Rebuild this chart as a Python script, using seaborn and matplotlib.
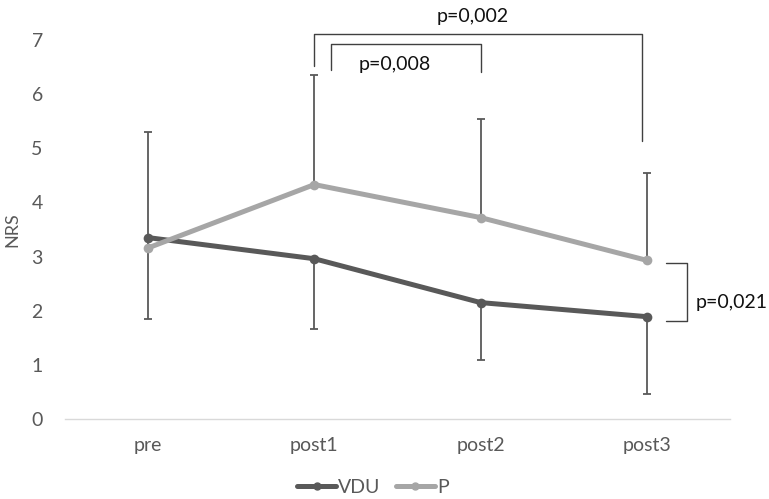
import numpy as np
import pandas as pd
import seaborn as sns
import matplotlib.pyplot as plt

# values
timepoints = ["pre", "post1", "post2", "post3"]
vdu_mean = [3.35, 2.96, 2.15, 1.89]
p_mean = [3.16, 4.33, 3.72, 2.93]
# one-sided error bars: P upward, VDU downward
p_err_up = [2.14, 2.02, 1.83, 1.62]
vdu_err_down = [1.50, 1.29, 1.06, 1.43]
yticks = [0, 1, 2, 3, 4, 5, 6, 7]

dark = "#595959"
light = "#a6a6a6"
text_col = "#595959"

df = pd.DataFrame({
    "time": timepoints * 2,
    "NRS": vdu_mean + p_mean,
    "group": ["VDU"] * 4 + ["P"] * 4,
})

sns.set_style("white")
plt.rcParams["font.family"] = ["Lato", "DejaVu Sans"]

fig = plt.figure(figsize=(7.69, 4.99), dpi=100)
ax = fig.add_axes([65 / 769, 80 / 499, 665 / 769, 379 / 499])

x = np.arange(len(timepoints))
ax.errorbar(x, p_mean, yerr=[np.zeros(4), p_err_up], fmt="none",
            ecolor=dark, elinewidth=1.3, capsize=3, capthick=1.3, zorder=1)
ax.errorbar(x, vdu_mean, yerr=[vdu_err_down, np.zeros(4)], fmt="none",
            ecolor=dark, elinewidth=1.3, capsize=3, capthick=1.3, zorder=1)

sns.lineplot(data=df, x="time", y="NRS", hue="group", palette={"VDU": dark, "P": light},
             hue_order=["VDU", "P"], marker="o", markersize=7, markeredgewidth=0,
             linewidth=3.6, ax=ax, legend=False, zorder=3)

ax.set_xlim(-0.5, 3.5)
ax.set_ylim(0, 7)
ax.set_yticks(yticks)
ax.set_xlabel("")
ax.set_ylabel("NRS", color=text_col, fontsize=13, labelpad=8)
ax.tick_params(axis="both", length=0, labelsize=14, colors=text_col)
ax.tick_params(axis="x", pad=13)
ax.tick_params(axis="y", pad=16)
for s in ["top", "right", "left"]:
    ax.spines[s].set_visible(False)
ax.spines["bottom"].set_color("#d9d9d9")
ax.spines["bottom"].set_linewidth(1)

# significance brackets
br = dict(color="#404040", lw=1, clip_on=False)
ax.plot([1.0, 1.0, 2.97, 2.97], [6.52, 7.11, 7.11, 5.13], **br)
ax.plot([1.10, 1.10, 2.0, 2.0], [6.44, 6.93, 6.93, 6.41], **br)
ax.plot([3.115, 3.24, 3.24, 3.115], [2.89, 2.89, 1.81, 1.81], **br)
ax.text(1.95, 7.43, "p=0,002", ha="center", va="center", fontsize=14, color="#111111")
ax.text(1.485, 6.55, "p=0,008", ha="center", va="center", fontsize=14, color="#111111")
ax.text(3.51, 2.15, "p=0,021", ha="center", va="center", fontsize=14, color="#111111", clip_on=False)

handles = [plt.Line2D([], [], color=dark, lw=3.6, marker="o", markersize=5),
           plt.Line2D([], [], color=light, lw=3.6, marker="o", markersize=5)]
fig.legend(handles, ["VDU", "P"], loc="center", bbox_to_anchor=(0.485, 0.024),
           ncol=2, frameon=False, handlelength=2.0, handletextpad=0.1,
           columnspacing=0.8, prop={"size": 14}, labelcolor=text_col)

fig.savefig("out.png", dpi=100)
